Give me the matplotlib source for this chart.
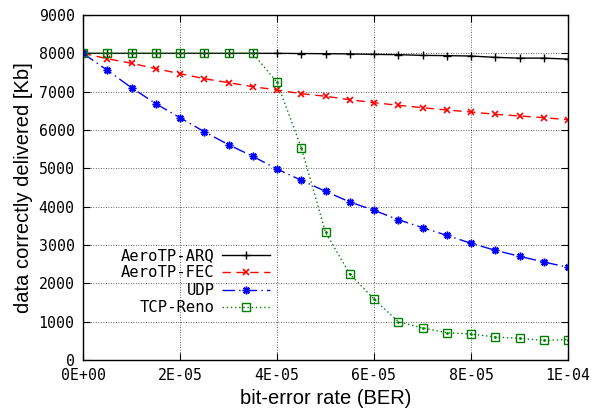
import matplotlib
matplotlib.use("Agg")
import matplotlib.pyplot as plt
from matplotlib.ticker import FixedLocator

ber = [i * 5e-6 for i in range(21)]
arq = [8000, 8000, 8000, 8000, 8000, 8000, 8000, 8000, 8000, 7995, 7990,
       7985, 7973, 7965, 7947, 7940, 7930, 7895, 7875, 7875, 7850]
fec = [8000, 7860, 7741, 7600, 7470, 7339, 7235, 7130, 7044, 6947, 6880,
       6791, 6713, 6645, 6582, 6522, 6470, 6410, 6366, 6321, 6269]
udp = [8000, 7558, 7104, 6687, 6321, 5956, 5617, 5314, 4983, 4688, 4401,
       4122, 3906, 3660, 3452, 3253, 3045, 2862, 2705, 2557, 2418]
tcp = [8000, 8000, 8000, 8000, 8000, 8000, 8000, 8000, 7245, 5539, 3331,
       2244, 1591, 1000, 835, 713, 678, 600, 565, 513, 530]
series_names = ["AeroTP-ARQ", "AeroTP-FEC", "UDP", "TCP-Reno"]
xticks = [0, 2e-5, 4e-5, 6e-5, 8e-5, 1e-4]
xtick_labels = ["0E+00", "2E-05", "4E-05", "6E-05", "8E-05", "1E-04"]
yticks = list(range(0, 9001, 1000))

mono = "DejaVu Sans Mono"
label_font = ["Liberation Sans", "DejaVu Sans"]

fig = plt.figure(figsize=(6.07, 4.16), dpi=100)
ax = fig.add_axes([83/607, 1 - 360/416, (568 - 83)/607, (360 - 15)/416])

ax.plot(ber, arq, color="black", lw=1.0, ls="-", marker="+", ms=6, mew=1.0,
        label=series_names[0])
ax.plot(ber, fec, color="red", lw=1.0, ls=(0, (6, 4)), marker="x", ms=5, mew=1.2,
        label=series_names[1])
ax.plot(ber, udp, color="blue", lw=1.0, ls=(0, (9, 3, 1, 3)), marker=(8, 2, 0), ms=5.5, mew=1.1,
        label=series_names[2])
ax.plot(ber, tcp, color="green", lw=1.0, ls=(0, (1, 2)), marker="s", ms=5.5, mew=1.0,
        mfc="none", label=series_names[3])
ax.plot(ber, tcp, color="green", lw=0, marker=".", ms=2)

ax.set_xlim(0, 1e-4)
ax.set_ylim(0, 9000)
ax.xaxis.set_major_locator(FixedLocator(xticks))
ax.set_xticklabels(xtick_labels, fontfamily=mono, fontsize=10.7)
ax.set_yticks(yticks)
ax.set_yticklabels([str(v) for v in yticks], fontfamily=mono, fontsize=10.7)
ax.tick_params(direction="in", length=5, width=0.8, top=True, right=True, pad=6)
ax.grid(True, ls=(0, (1, 2)), color="black", lw=0.6, alpha=0.8)
for s in ax.spines.values():
    s.set_linewidth(1.0)

ax.set_xlabel("bit-error rate (BER)", fontfamily=label_font, fontsize=14.5, labelpad=4)
ax.set_ylabel("data correctly delivered [Kb]", fontfamily=label_font, fontsize=14.5, labelpad=4)

leg = ax.legend(loc="upper right", bbox_to_anchor=((270 - 83)/485, (360 - 248)/345),
                frameon=False, markerfirst=False, numpoints=1, handlelength=3.1,
                handletextpad=0.45, labelspacing=0.16, borderpad=0, borderaxespad=0,
                prop={"family": mono, "size": 11.2})

fig.savefig("out.png", dpi=100)
